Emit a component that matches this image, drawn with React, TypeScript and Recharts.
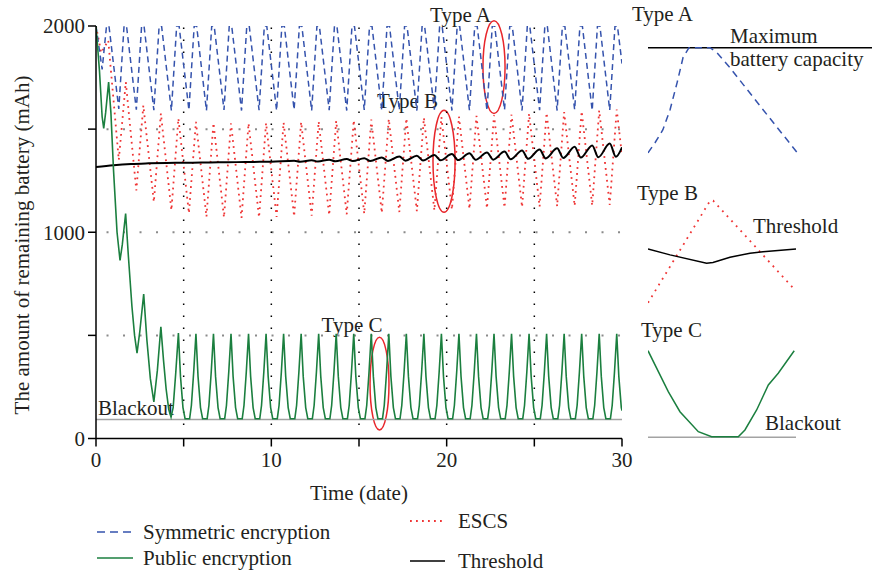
import React from 'react';
import { LineChart, Line, XAxis, YAxis, ReferenceLine, ReferenceArea } from 'recharts';

const FONT = '"Liberation Serif", "DejaVu Serif", serif';
const TXT = '#231f20';
const FS = 21;

// ---------- main chart data ----------
const xTicks = [0, 5, 10, 15, 20, 25, 30];
const yTicks = [0, 500, 1000, 1500, 2000];

// Symmetric encryption (blue dashed)
const symT = [0, 0.35, 0.6, 0.74,
  1.3, 1.6, 1.74, 2.3, 2.6, 2.74, 3.3, 3.6, 3.74, 4.3, 4.6, 4.74, 5.3, 5.6, 5.74,
  6.3, 6.6, 6.74, 7.3, 7.6, 7.74, 8.3, 8.6, 8.74, 9.3, 9.6, 9.74, 10.3, 10.6, 10.74,
  11.3, 11.6, 11.74, 12.3, 12.6, 12.74, 13.3, 13.6, 13.74, 14.3, 14.6, 14.74, 15.3, 15.6, 15.74,
  16.3, 16.6, 16.74, 17.3, 17.6, 17.74, 18.3, 18.6, 18.74, 19.3, 19.6, 19.74, 20.3, 20.6, 20.74,
  21.3, 21.6, 21.74, 22.3, 22.6, 22.74, 23.3, 23.6, 23.74, 24.3, 24.6, 24.74, 25.3, 25.6, 25.74,
  26.3, 26.6, 26.74, 27.3, 27.6, 27.74, 28.3, 28.6, 28.74, 29.3, 29.6, 29.74, 30];
const symV = [2000, 1790, 2000, 2000,
  1598, 2000, 2000, 1594, 2000, 2000, 1592, 2000, 2000, 1590, 2000, 2000, 1592, 2000, 2000,
  1590, 2000, 2000, 1593, 2000, 2000, 1590, 2000, 2000, 1592, 2000, 2000, 1590, 2000, 2000,
  1594, 2000, 2000, 1590, 2000, 2000, 1592, 2000, 2000, 1590, 2000, 2000, 1593, 2000, 2000,
  1590, 2000, 2000, 1592, 2000, 2000, 1590, 2000, 2000, 1594, 2000, 2000, 1590, 2000, 2000,
  1592, 2000, 2000, 1590, 2000, 2000, 1593, 2000, 2000, 1590, 2000, 2000, 1592, 2000, 2000,
  1590, 2000, 2000, 1594, 2000, 2000, 1590, 2000, 2000, 1592, 2000, 2000, 1818];

// ESCS (red dotted)
const escsT = [0, 0.3, 0.7, 1.3, 1.7, 2.3, 2.7, 3.3, 3.7, 4.3, 4.7, 5.3, 5.7, 6.3, 6.7,
  7.3, 7.7, 8.3, 8.7, 9.3, 9.7, 10.3, 10.7, 11.3, 11.7, 12.3, 12.7, 13.3, 13.7, 14.3, 14.7,
  15.3, 15.7, 16.3, 16.7, 17.3, 17.7, 18.3, 18.7, 19.3, 19.7, 20.3, 20.7, 21.3, 21.7, 22.3, 22.7,
  23.3, 23.7, 24.3, 24.7, 25.3, 25.7, 26.3, 26.7, 27.3, 27.7, 28.3, 28.7, 29.3, 29.7, 30];
const escsV = [2000, 1870, 1930, 1350, 1728, 1203, 1615, 1147, 1576, 1107, 1552, 1092, 1535, 1075, 1530,
  1072, 1528, 1070, 1528, 1072, 1530, 1074, 1532, 1077, 1534, 1080, 1537, 1083, 1540, 1087, 1543,
  1090, 1546, 1094, 1549, 1098, 1552, 1102, 1555, 1106, 1558, 1110, 1561, 1113, 1564, 1116, 1567,
  1119, 1571, 1122, 1575, 1124, 1579, 1126, 1583, 1128, 1587, 1130, 1591, 1132, 1595, 1370];

// Threshold (black)
const thrT = [0, 1, 2, 3, 4, 5, 6, 7, 8, 9, 10,
  11.3, 11.65, 12.3, 12.65, 13.3, 13.65, 14.3, 14.65,
  15.3, 15.65, 16.3, 16.65, 17.3, 17.65, 18.3, 18.65, 19.3, 19.65, 20.3, 20.65, 21.3, 21.65,
  22.3, 22.65, 23.3, 23.65, 24.3, 24.65, 25.3, 25.65, 26.3, 26.65, 27.3, 27.65, 28.3, 28.65,
  29.3, 29.65, 30];
const thrV = [1316, 1325, 1331, 1334, 1336, 1337, 1338, 1339, 1340, 1341, 1342,
  1347, 1342, 1349, 1343, 1352, 1344, 1355, 1345,
  1359, 1346, 1363, 1346, 1367, 1347, 1371, 1348, 1375, 1349, 1379, 1350, 1383, 1351,
  1387, 1352, 1391, 1354, 1396, 1356, 1401, 1358, 1407, 1360, 1414, 1362, 1421, 1364,
  1430, 1366, 1412];

// Public encryption (green)
const pubT = [0, 0.2, 0.35, 0.44, 0.55, 0.72, 0.85, 1.0, 1.2, 1.37, 1.5, 1.69, 1.85, 2.05, 2.2,
  2.34, 2.5, 2.72, 2.9, 3.1, 3.3, 3.5, 3.7, 3.85, 4.0, 4.15, 4.28, 4.4, 4.55,
  4.7, 4.82, 4.96, 5.08, 5.34, 5.44, 5.57,
  5.7, 5.82, 5.96, 6.08, 6.34, 6.44, 6.57,
  6.7, 6.82, 6.96, 7.08, 7.34, 7.44, 7.57,
  7.7, 7.82, 7.96, 8.08, 8.34, 8.44, 8.57,
  8.7, 8.82, 8.96, 9.08, 9.34, 9.44, 9.57,
  9.7, 9.82, 9.96, 10.08, 10.34, 10.44, 10.57,
  10.7, 10.82, 10.96, 11.08, 11.34, 11.44, 11.57,
  11.7, 11.82, 11.96, 12.08, 12.34, 12.44, 12.57,
  12.7, 12.82, 12.96, 13.08, 13.34, 13.44, 13.57,
  13.7, 13.82, 13.96, 14.08, 14.34, 14.44, 14.57,
  14.7, 14.82, 14.96, 15.08, 15.34, 15.44, 15.57,
  15.7, 15.82, 15.96, 16.08, 16.34, 16.44, 16.57,
  16.7, 16.82, 16.96, 17.08, 17.34, 17.44, 17.57,
  17.7, 17.82, 17.96, 18.08, 18.34, 18.44, 18.57,
  18.7, 18.82, 18.96, 19.08, 19.34, 19.44, 19.57,
  19.7, 19.82, 19.96, 20.08, 20.34, 20.44, 20.57,
  20.7, 20.82, 20.96, 21.08, 21.34, 21.44, 21.57,
  21.7, 21.82, 21.96, 22.08, 22.34, 22.44, 22.57,
  22.7, 22.82, 22.96, 23.08, 23.34, 23.44, 23.57,
  23.7, 23.82, 23.96, 24.08, 24.34, 24.44, 24.57,
  24.7, 24.82, 24.96, 25.08, 25.34, 25.44, 25.57,
  25.7, 25.82, 25.96, 26.08, 26.34, 26.44, 26.57,
  26.7, 26.82, 26.96, 27.08, 27.34, 27.44, 27.57,
  27.7, 27.82, 27.96, 28.08, 28.34, 28.44, 28.57,
  28.7, 28.82, 28.96, 29.08, 29.34, 29.44, 29.57,
  29.7, 29.82, 29.96, 30];
const pubV = [2000, 1780, 1560, 1504, 1580, 1728, 1580, 1300, 1000, 864, 940, 1091, 880, 640, 500,
  414, 520, 700, 480, 290, 178, 330, 541, 380, 240, 140, 104, 150, 320,
  511, 300, 150, 96, 96, 160, 320,
  508, 300, 150, 96, 96, 160, 320,
  508, 300, 150, 96, 96, 160, 320,
  508, 300, 150, 96, 96, 160, 320,
  508, 300, 150, 96, 96, 160, 320,
  508, 300, 150, 96, 96, 160, 320,
  508, 300, 150, 96, 96, 160, 320,
  508, 300, 150, 96, 96, 160, 320,
  508, 300, 150, 96, 96, 160, 320,
  508, 300, 150, 96, 96, 160, 320,
  508, 300, 150, 96, 96, 160, 320,
  508, 300, 150, 96, 96, 160, 320,
  508, 300, 150, 96, 96, 160, 320,
  508, 300, 150, 96, 96, 160, 320,
  508, 300, 150, 96, 96, 160, 320,
  508, 300, 150, 96, 96, 160, 320,
  508, 300, 150, 96, 96, 160, 320,
  508, 300, 150, 96, 96, 160, 320,
  508, 300, 150, 96, 96, 160, 320,
  508, 300, 150, 96, 96, 160, 320,
  508, 300, 150, 96, 96, 160, 320,
  508, 300, 150, 96, 96, 160, 320,
  508, 300, 150, 96, 96, 160, 320,
  508, 300, 150, 96, 96, 160, 320,
  508, 300, 150, 96, 96, 160, 320,
  508, 300, 150, 135];

const BLACKOUT = 92;

// ---------- inset data ----------
const insetAX = [0, 0.047, 0.1, 0.148, 0.195, 0.235, 0.275, 0.416, 0.463, 0.55, 0.772, 1.0];
const insetAV = [1596, 1635, 1685, 1762, 1865, 1962, 2000, 2000, 1981, 1923, 1762, 1598];
const insetBRedX = [0, 0.42, 0.44, 0.988];
const insetBRedV = [1080, 1560, 1560, 1144];
const insetBThrX = [0, 0.149, 0.396, 0.439, 0.554, 0.689, 0.777, 1.0];
const insetBThrV = [1333, 1305, 1266, 1269, 1294, 1313, 1320, 1333];
const insetCX = [0, 0.137, 0.216, 0.34, 0.43, 0.61, 0.655, 0.734, 0.813, 0.88, 0.988];
const insetCV = [436, 272, 192, 112, 92, 92, 119, 199, 299, 346, 436];
const INSET_BLACKOUT = 90;

const rows = (ts: number[], vs: number[]) => ts.map((t, i) => ({ t, v: vs[i] }));

const symRows = rows(symT, symV);
const escsRows = rows(escsT, escsV);
const thrRows = rows(thrT, thrV);
const pubRows = rows(pubT, pubV);

const COLORS = { sym: '#3553ad', escs: '#ef3535', thr: '#000000', pub: '#1b7f3f', blackout: '#a3a3a3' };

const ellipses = [
  { label: 'Type A', x1: 22.07, x2: 23.33, y1: 1576, y2: 2026, dx: -3, dy: 1 },
  { label: 'Type B', x1: 19.22, x2: 20.48, y1: 1097, y2: 1591, dx: -6, dy: -2 },
  { label: 'Type C', x1: 15.63, x2: 16.71, y1: 41, y2: 491, dx: 3, dy: -5 },
];

const EllipseShape = (props: any) => {
  const { x, y, width, height, label, dx, dy } = props;
  const cx = x + width / 2;
  return (
    <g>
      <ellipse cx={cx} cy={y + height / 2} rx={Math.abs(width) / 2} ry={Math.abs(height) / 2}
        fill="none" stroke="#e8262b" strokeWidth={1.5} />
      <text x={cx + dx} y={y + dy} textAnchor="end" fontFamily={FONT} fontSize={FS} fill={TXT}>{label}</text>
    </g>
  );
};

const hiddenMargin = { top: 0, right: 0, bottom: 0, left: 0 };

export default function App() {
  return (
    <div style={{ position: 'absolute', left: 0, top: 0, width: 874, height: 575, background: '#fff' }}>
      <LineChart width={874} height={575} margin={{ top: 26, right: 252, bottom: 96.5, left: 36 }}>
        <XAxis type="number" dataKey="t" domain={[0, 30]} ticks={xTicks} interval={0}
          tickFormatter={(v: number) => (v % 10 === 0 ? String(v) : '')}
          height={40} tickSize={8} tickMargin={6} allowDataOverflow
          axisLine={{ stroke: '#000', strokeWidth: 1.5 }} tickLine={{ stroke: '#000', strokeWidth: 1.5 }}
          tick={{ fill: TXT, fontSize: FS, fontFamily: FONT }} />
        <YAxis type="number" domain={[0, 2000]} ticks={yTicks} interval={0}
          tickFormatter={(v: number) => (v % 1000 === 0 ? String(v) : '')}
          width={60} tickSize={8} tickMargin={3} allowDataOverflow
          axisLine={{ stroke: '#000', strokeWidth: 1.5 }} tickLine={{ stroke: '#000', strokeWidth: 1.5 }}
          tick={{ fill: TXT, fontSize: FS, fontFamily: FONT }} />
        {[500, 1000, 1500].map((g) => (
          <ReferenceLine key={'h' + g} segment={[{ x: 0.6, y: g }, { x: 30, y: g }]}
            stroke="#8a8a8a" strokeWidth={2} strokeDasharray="2 14.5" />
        ))}
        {[5, 10, 15, 20, 25].map((g) => (
          <ReferenceLine key={'v' + g} segment={[{ x: g, y: 65 }, { x: g, y: 2000 }]}
            stroke="#000" strokeWidth={1.5} strokeDasharray="1.5 10.5" />
        ))}
        <ReferenceLine segment={[{ x: 0, y: BLACKOUT }, { x: 30, y: BLACKOUT }]}
          stroke={COLORS.blackout} strokeWidth={1.6}
          label={(p: any) => (
            <text x={p.viewBox.x + 2} y={p.viewBox.y - 4.5} fontFamily={FONT} fontSize={FS} fill={TXT}>Blackout</text>
          )} />
        <Line data={escsRows} dataKey="v" type="linear" stroke={COLORS.escs} strokeWidth={1.8}
          strokeDasharray="1.8 4.2" dot={false} isAnimationActive={false} />
        <Line data={symRows} dataKey="v" type="linear" stroke={COLORS.sym} strokeWidth={1.5}
          strokeDasharray="6 4" dot={false} isAnimationActive={false} />
        <Line data={thrRows} dataKey="v" type="monotone" stroke={COLORS.thr} strokeWidth={2}
          dot={false} isAnimationActive={false} />
        <Line data={pubRows} dataKey="v" type="linear" stroke={COLORS.pub} strokeWidth={1.6}
          dot={false} isAnimationActive={false} />
        {ellipses.map((e) => (
          <ReferenceArea key={e.label} x1={e.x1} x2={e.x2} y1={e.y1} y2={e.y2} ifOverflow="visible"
            shape={(p: any) => <EllipseShape {...p} label={e.label} dx={e.dx} dy={e.dy} />} />
        ))}
      </LineChart>

      {/* Inset A */}
      <div style={{ position: 'absolute', left: 648, top: 30 }}>
        <LineChart width={224} height={125} margin={hiddenMargin}>
          <XAxis type="number" dataKey="t" domain={[0, 1.503]} hide />
          <YAxis type="number" domain={[1588, 2068]} hide />
          <ReferenceLine y={2000} stroke="#000" strokeWidth={1.5} />
          <Line data={rows(insetAX, insetAV)} dataKey="v" type="linear" stroke={COLORS.sym} strokeWidth={1.5}
            strokeDasharray="7 5" dot={false} isAnimationActive={false} />
        </LineChart>
      </div>
      {/* Inset B */}
      <div style={{ position: 'absolute', left: 648, top: 190 }}>
        <LineChart width={150} height={120} margin={hiddenMargin}>
          <XAxis type="number" dataKey="t" domain={[0, 1.0135]} hide />
          <YAxis type="number" domain={[1046, 1610]} hide />
          <Line data={rows(insetBRedX, insetBRedV)} dataKey="v" type="linear" stroke={COLORS.escs} strokeWidth={1.8}
            strokeDasharray="1.8 5" dot={false} isAnimationActive={false} />
          <Line data={rows(insetBThrX, insetBThrV)} dataKey="v" type="linear" stroke="#000" strokeWidth={1.5}
            dot={false} isAnimationActive={false} />
        </LineChart>
      </div>
      {/* Inset C */}
      <div style={{ position: 'absolute', left: 648, top: 340 }}>
        <LineChart width={150} height={105} margin={hiddenMargin}>
          <XAxis type="number" dataKey="t" domain={[0, 1.0135]} hide />
          <YAxis type="number" domain={[58.8, 478.8]} hide />
          <ReferenceLine segment={[{ x: 0, y: INSET_BLACKOUT }, { x: 1.0, y: INSET_BLACKOUT }]}
            stroke={COLORS.blackout} strokeWidth={1.6} />
          <Line data={rows(insetCX, insetCV)} dataKey="v" type="linear" stroke={COLORS.pub} strokeWidth={1.5}
            dot={false} isAnimationActive={false} />
        </LineChart>
      </div>

      <svg width={874} height={575} style={{ position: 'absolute', left: 0, top: 0, pointerEvents: 'none' }}
        fontFamily={FONT} fontSize={FS} fill={TXT}>
        <text transform="translate(29,245) rotate(-90)" textAnchor="middle">The amount of remaining battery (mAh)</text>
        <text x={359} y={500} textAnchor="middle">Time (date)</text>

        <text x={632} y={21}>Type A</text>
        <text x={730} y={43}>Maximum</text>
        <text x={730} y={66}>battery capacity</text>
        <text x={637} y={200}>Type B</text>
        <text x={753} y={233}>Threshold</text>
        <text x={641} y={337}>Type C</text>
        <text x={765} y={430}>Blackout</text>

        <line x1={97} x2={133} y1={532} y2={532} stroke={COLORS.sym} strokeWidth={1.5} strokeDasharray="8 5" />
        <text x={143} y={539}>Symmetric encryption</text>
        <line x1={97} x2={133} y1={558} y2={558} stroke={COLORS.pub} strokeWidth={1.6} />
        <text x={143} y={565}>Public encryption</text>
        <line x1={410} x2={445} y1={521} y2={521} stroke={COLORS.escs} strokeWidth={1.8} strokeDasharray="1.8 4.2" />
        <text x={458} y={528}>ESCS</text>
        <line x1={410} x2={445} y1={561} y2={561} stroke="#000" strokeWidth={1.6} />
        <text x={458} y={568}>Threshold</text>
      </svg>
    </div>
  );
}
